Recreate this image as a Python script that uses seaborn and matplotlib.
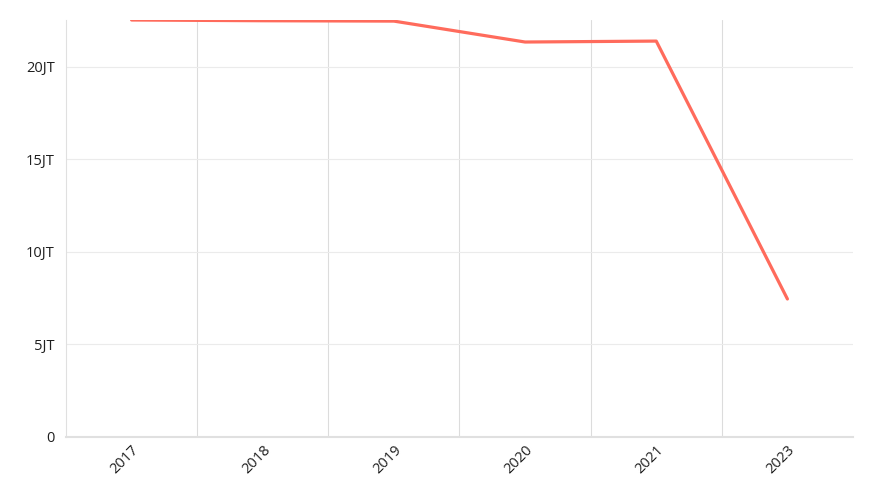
import matplotlib
matplotlib.use("Agg")
import matplotlib.pyplot as plt
import seaborn as sns
import pandas as pd
from matplotlib.ticker import FixedLocator, FuncFormatter

years = ["2017", "2018", "2019", "2020", "2021", "2023"]
values = [22.54, 22.5, 22.48, 21.35, 21.4, 7.46]  # in JT (juta)
y_ticks = [0, 5, 10, 15, 20]

df = pd.DataFrame({"year": years, "value": values})

sns.set_style("white")
plt.rcParams["font.family"] = ["Open Sans", "DejaVu Sans"]

fig, ax = plt.subplots(figsize=(8.73, 5), dpi=100)
fig.subplots_adjust(left=66/873, right=853/873, top=1 - 20/500, bottom=1 - 437/500)

sns.lineplot(data=df, x="year", y="value", ax=ax, color="#ff6b5c", linewidth=2.3, sort=False)

ax.set_xlim(-0.5, len(years) - 0.5)
ax.set_ylim(0, max(values))
ax.set_yticks(y_ticks)
ax.yaxis.set_major_formatter(FuncFormatter(lambda v, p: "0" if v == 0 else f"{int(v)}JT"))

# vertical grid between categories
ax.xaxis.set_minor_locator(FixedLocator([i + 0.5 for i in range(len(years) - 1)]))
ax.grid(axis="x", which="minor", color="#dcdcdc", linewidth=0.8)
ax.grid(axis="y", which="major", color="#ebebeb", linewidth=0.8)
ax.set_axisbelow(True)

ax.tick_params(axis="both", which="both", length=0, colors="#1f1f1f", labelsize=10.5)
ax.tick_params(axis="x", pad=4)
ax.tick_params(axis="y", pad=8)
plt.setp(ax.get_xticklabels(), rotation=45, ha="right", rotation_mode="anchor")

for s in ["top", "right"]:
    ax.spines[s].set_visible(False)
ax.spines["left"].set_color("#e0e0e0")
ax.spines["bottom"].set_color("#e0e0e0")
ax.spines["bottom"].set_linewidth(1.5)

ax.set_xlabel("")
ax.set_ylabel("")

fig.savefig("out.png", dpi=100)
